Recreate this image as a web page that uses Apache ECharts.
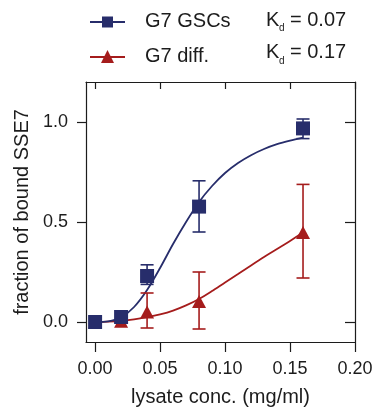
<!DOCTYPE html>
<html><head><meta charset="utf-8">
<script src="https://cdn.jsdelivr.net/npm/echarts@6/dist/echarts.min.js"></script>
<style>html,body{margin:0;padding:0;background:#fff}#c{width:376px;height:412px}</style>
</head><body><div id="c"></div>
<script>
// ---- data ----
var conc = [0, 0.02, 0.04, 0.08, 0.16];
var gscMean = [0, 0.025, 0.23, 0.577, 0.968];
var gscLow  = [null, null, 0.188, 0.45, 0.917];
var gscHigh = [null, null, 0.286, 0.706, 1.015];
var diffMean = [0, 0.004, 0.05, 0.102, 0.448];
var diffLow  = [null, null, -0.03, -0.035, 0.22];
var diffHigh = [null, null, 0.145, 0.25, 0.688];
// fitted curves
var fitX    = [0, 0.01, 0.02, 0.03, 0.04, 0.05, 0.06, 0.07, 0.08, 0.09, 0.10, 0.11, 0.12, 0.13, 0.14, 0.15, 0.16];
var gscFit  = [0, 0.003, 0.023, 0.075, 0.16, 0.27, 0.39, 0.5, 0.6, 0.68, 0.745, 0.795, 0.834, 0.865, 0.889, 0.907, 0.922];
var diffFit = [0, 0.002, 0.006, 0.013, 0.024, 0.038, 0.057, 0.083, 0.115, 0.155, 0.198, 0.24, 0.283, 0.325, 0.365, 0.405, 0.447];
var xTicks = [0, 0.05, 0.10, 0.15, 0.20];
var yTicks = [0, 0.5, 1.0];
var seriesNames = ['G7 GSCs', 'G7 diff.'];
var kdLabels = ['0.07', '0.17'];

var BLUE = '#272d6b', RED = '#a51c1c', INK = '#1c1c1c';
var FONT = 'Liberation Sans, Arial, Helvetica, sans-serif';

function zip(xs, ys) { return xs.map(function (x, i) { return [x, ys[i]]; }); }
function errData(xs, lo, hi) {
  var out = [];
  xs.forEach(function (x, i) { if (lo[i] != null) out.push([x, lo[i], hi[i]]); });
  return out;
}
function errSeries(data, color) {
  return {
    type: 'custom', data: data, z: 3, silent: true,
    renderItem: function (params, api) {
      var x = api.value(0);
      var p1 = api.coord([x, api.value(1)]);
      var p2 = api.coord([x, api.value(2)]);
      var hw = 6.5;
      var st = { stroke: color, lineWidth: 1.6 };
      return { type: 'group', children: [
        { type: 'line', shape: { x1: p1[0], y1: p1[1], x2: p2[0], y2: p2[1] }, style: st },
        { type: 'line', shape: { x1: p1[0] - hw, y1: p1[1], x2: p1[0] + hw, y2: p1[1] }, style: st },
        { type: 'line', shape: { x1: p2[0] - hw, y1: p2[1], x2: p2[0] + hw, y2: p2[1] }, style: st }
      ]};
    }
  };
}

var axisLineStyle = { color: INK, width: 1.2 };
var chart = echarts.init(document.getElementById('c'), null, { renderer: 'canvas' });
chart.setOption({
  animation: false,
  textStyle: { fontFamily: FONT },
  grid: { left: 86, right: 21, top: 82, bottom: 69, containLabel: false },
  xAxis: [{
    type: 'value', min: -0.007, max: 0.2, position: 'bottom',
    axisLine: { show: true, onZero: false, lineStyle: axisLineStyle },
    axisTick: { show: true, length: 10, inside: false, customValues: xTicks, lineStyle: axisLineStyle },
    axisLabel: { show: true, customValues: xTicks, margin: 18, fontSize: 18, color: INK, fontFamily: FONT,
      formatter: function (v) { return v.toFixed(2); } },
    splitLine: { show: false },
    name: 'lysate conc. (mg/ml)', nameLocation: 'middle', nameGap: 45,
    nameTextStyle: { fontSize: 20, color: INK, fontFamily: FONT }
  }, {
    type: 'value', min: -0.007, max: 0.2, position: 'top',
    axisLine: { show: true, onZero: false, lineStyle: axisLineStyle },
    axisTick: { show: true, length: 7, inside: true, customValues: xTicks, lineStyle: axisLineStyle },
    axisLabel: { show: false }, splitLine: { show: false }
  }],
  yAxis: [{
    type: 'value', min: -0.1, max: 1.2, position: 'left',
    axisLine: { show: true, onZero: false, lineStyle: axisLineStyle },
    axisTick: { show: true, length: 9, inside: false, customValues: yTicks, lineStyle: axisLineStyle },
    axisLabel: { show: true, customValues: yTicks, margin: 18, fontSize: 18, color: INK, fontFamily: FONT,
      formatter: function (v) { return v.toFixed(1); } },
    splitLine: { show: false },
    name: 'fraction of bound SSE7', nameLocation: 'middle', nameGap: 49,
    nameTextStyle: { fontSize: 20, color: INK, fontFamily: FONT }
  }, {
    type: 'value', min: -0.1, max: 1.2, position: 'right',
    axisLine: { show: true, onZero: false, lineStyle: axisLineStyle },
    axisTick: { show: true, length: 10, inside: true, customValues: yTicks, lineStyle: axisLineStyle },
    axisLabel: { show: false }, splitLine: { show: false }
  }],
  series: [
    { type: 'line', data: zip(fitX, diffFit), smooth: 0.3, showSymbol: false, symbol: 'none',
      lineStyle: { color: RED, width: 1.8 }, z: 2, silent: true },
    { type: 'line', data: zip(fitX, gscFit), smooth: 0.3, showSymbol: false, symbol: 'none',
      lineStyle: { color: BLUE, width: 1.8 }, z: 2, silent: true },
    errSeries(errData(conc, diffLow, diffHigh), RED),
    errSeries(errData(conc, gscLow, gscHigh), BLUE),
    { type: 'scatter', name: seriesNames[1], data: zip(conc, diffMean), symbol: 'triangle', symbolSize: [14, 13],
      itemStyle: { color: RED, opacity: 1 }, z: 4 },
    { type: 'scatter', name: seriesNames[0], data: zip(conc, gscMean), symbol: 'rect', symbolSize: 14,
      itemStyle: { color: BLUE, opacity: 1 }, z: 5 }
  ],
  graphic: [
    // legend row 1
    { type: 'line', shape: { x1: 90, y1: 22, x2: 125, y2: 22 }, style: { stroke: BLUE, lineWidth: 1.8 } },
    { type: 'rect', shape: { x: 102, y: 16.5, width: 11, height: 11 }, style: { fill: BLUE } },
    { type: 'text', x: 145, y: 21, style: { text: seriesNames[0], fontSize: 20, fontFamily: FONT, fill: INK, verticalAlign: 'middle' } },
    { type: 'text', x: 266, y: 20, style: { text: 'K', fontSize: 20, fontFamily: FONT, fill: INK, verticalAlign: 'middle' } },
    { type: 'text', x: 279, y: 28.5, style: { text: 'd', fontSize: 10, fontFamily: FONT, fill: INK, verticalAlign: 'middle' } },
    { type: 'text', x: 290, y: 20, style: { text: '= ' + kdLabels[0], fontSize: 20, fontFamily: FONT, fill: INK, verticalAlign: 'middle' } },
    // legend row 2
    { type: 'line', shape: { x1: 90, y1: 57, x2: 125, y2: 57 }, style: { stroke: RED, lineWidth: 1.8 } },
    { type: 'polygon', shape: { points: [[107.5, 50], [114, 63], [101, 63]] }, style: { fill: RED } },
    { type: 'text', x: 145, y: 56, style: { text: seriesNames[1], fontSize: 20, fontFamily: FONT, fill: INK, verticalAlign: 'middle' } },
    { type: 'text', x: 266, y: 52.5, style: { text: 'K', fontSize: 20, fontFamily: FONT, fill: INK, verticalAlign: 'middle' } },
    { type: 'text', x: 279, y: 61, style: { text: 'd', fontSize: 10, fontFamily: FONT, fill: INK, verticalAlign: 'middle' } },
    { type: 'text', x: 290, y: 52.5, style: { text: '= ' + kdLabels[1], fontSize: 20, fontFamily: FONT, fill: INK, verticalAlign: 'middle' } }
  ]
});
</script>
</body></html>
